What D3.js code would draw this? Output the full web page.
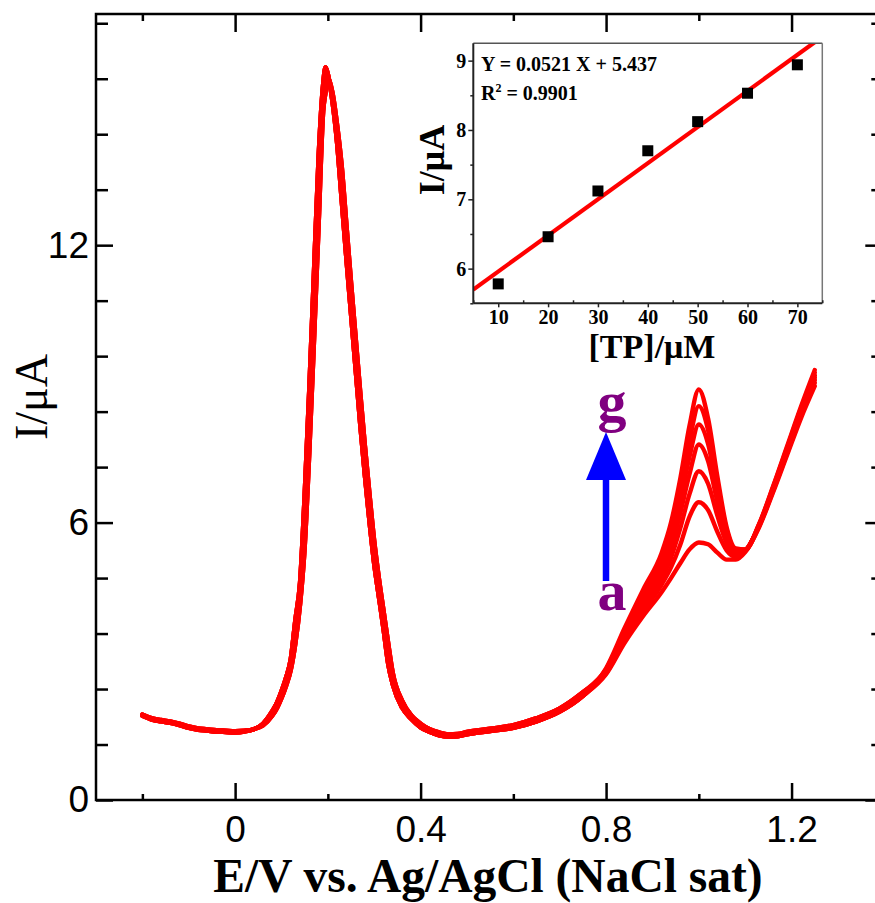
<!DOCTYPE html>
<html><head><meta charset="utf-8">
<script src="https://cdn.jsdelivr.net/npm/d3@7"></script>
<style>body{margin:0;background:#fff}svg{display:block}</style>
</head><body><svg id="c" width="875" height="903"></svg>
<script>
// ---------- DATA ----------
// shared part of the DPV curves (E / V, I / µA); two edges of the overlapping band
const commonE  = [-0.20,-0.18,-0.16,-0.14,-0.12,-0.10,-0.08,-0.06,-0.04,-0.02,0.00,0.02,0.04,0.06,0.08,0.09,0.10,0.11,0.12,0.13,0.14,0.15,0.16,0.17,0.18,0.19,0.195,0.20,0.21,0.22,0.23,0.24,0.25,0.26,0.27,0.28,0.29,0.30,0.31,0.32,0.33,0.34,0.36,0.38,0.40,0.42,0.44,0.46,0.48,0.50,0.55,0.60,0.65,0.70,0.75];
const commonI1 = [1.82,1.74,1.70,1.67,1.62,1.56,1.52,1.50,1.48,1.47,1.46,1.48,1.53,1.65,1.92,2.10,2.35,2.65,3.05,3.90,4.70,6.60,8.90,11.40,13.90,15.50,15.85,15.70,15.10,14.20,12.95,11.70,10.50,9.30,8.10,7.00,6.00,5.10,4.40,3.70,2.95,2.50,2.00,1.75,1.57,1.47,1.40,1.37,1.38,1.42,1.49,1.56,1.70,1.91,2.25];
const commonI2 = [1.85,1.77,1.73,1.70,1.65,1.59,1.55,1.53,1.51,1.50,1.49,1.50,1.53,1.61,1.82,1.98,2.20,2.47,2.81,3.39,4.22,5.46,7.52,9.90,12.40,14.90,15.30,15.60,15.30,14.60,13.70,12.45,11.20,10.00,8.80,7.65,6.60,5.60,4.80,4.10,3.40,2.75,2.15,1.83,1.65,1.53,1.46,1.42,1.43,1.47,1.54,1.62,1.77,1.98,2.33];
// curve-specific part
const tailE  = [0.80,0.84,0.88,0.92,0.94,0.96,0.98,1.00,1.02,1.04,1.06,1.08,1.10,1.13,1.16,1.19,1.22,1.25];
const curveA = [2.72,3.40,3.98,4.50,4.80,5.12,5.42,5.57,5.53,5.35,5.20,5.20,5.36,5.90,6.65,7.45,8.25,8.95];
const curveB = [2.74,3.45,4.09,4.66,5.03,5.52,6.13,6.44,6.27,5.80,5.40,5.26,5.38,5.92,6.68,7.49,8.30,9.02];
const curveC = [2.76,3.50,4.18,4.80,5.24,5.88,6.62,7.11,6.84,6.15,5.56,5.31,5.39,5.93,6.70,7.52,8.34,9.08];
const curveD = [2.78,3.55,4.27,4.94,5.45,6.20,7.05,7.69,7.33,6.45,5.69,5.35,5.40,5.94,6.72,7.55,8.38,9.13];
const curveE = [2.80,3.60,4.36,5.08,5.64,6.47,7.43,8.12,7.70,6.67,5.79,5.39,5.41,5.95,6.74,7.58,8.42,9.18];
const curveF = [2.83,3.66,4.45,5.22,5.83,6.72,7.78,8.52,8.00,6.85,5.85,5.41,5.42,5.96,6.76,7.61,8.46,9.24];
const curveG = [2.85,3.72,4.55,5.35,6.00,6.95,8.10,8.88,8.25,7.00,5.90,5.44,5.42,5.97,6.78,7.64,8.50,9.30];
const curveLabels = ["a","b","c","d","e","f","g"];

const xMajor = [0, 0.4, 0.8, 1.2];
const xMinor = [-0.2, 0.2, 0.6, 1.0, 1.4];
const yMajor = [0, 6, 12];
const yMinor = [1.2,2.4,3.6,4.8,7.2,8.4,9.6,10.8,13.2,14.4,15.6,16.8];

// inset calibration data
const tpConc = [10, 20, 30, 40, 50, 60, 70];
const peakCurrent = [5.78, 6.46, 7.12, 7.70, 8.12, 8.53, 8.94];
const fitSlope = 0.0521, fitIntercept = 5.437;
const insetXTicks = [10, 20, 30, 40, 50, 60, 70];
const insetXMinor = [5, 15, 25, 35, 45, 55, 65, 75];
const insetYTicks = [6, 7, 8, 9];
const insetYMinor = [5.5, 6.5, 7.5, 8.5];

// ---------- DRAW ----------
const svg = d3.select("#c");
const RED = "#ff0000";
const x = d3.scaleLinear([-0.3, 1.4], [96, 884.3]);
const y = d3.scaleLinear([0, 17], [800, 14]);

// curves
const tails = [curveA, curveB, curveC, curveD, curveE, curveF, curveG];
const heads = [commonI1, commonI2, commonI1, commonI2, commonI1, commonI2, commonI1];
const line = d3.line().x(d => x(d[0])).y(d => y(d[1])).curve(d3.curveMonotoneX);
tails.forEach((t, k) => {
  const h = heads[k];
  const pts = commonE.map((e, i) => [e, h[i]]).concat(tailE.map((e, i) => [e, t[i]]));
  svg.append("path").attr("d", line(pts)).attr("fill", "none")
     .attr("stroke", RED).attr("stroke-width", 4.4).attr("stroke-linejoin", "round").attr("stroke-linecap","round");
});

// axes (inward ticks)
const axG = svg.append("g").attr("stroke-width", 2.5);
function styleAxis(g){ g.select(".domain").remove(); g.selectAll("line").attr("stroke","#000").attr("stroke-width",2.5); }
axG.append("g").attr("transform","translate(0,800)")
   .call(d3.axisBottom(x).tickValues(xMajor).tickSize(-17).tickPadding(16).tickFormat(d3.format("")))
   .call(styleAxis).call(g => g.selectAll("text").attr("font-family","Liberation Sans, Arial").attr("font-size",37).attr("fill","#000"));
axG.append("g").attr("transform","translate(0,800)")
   .call(d3.axisBottom(x).tickValues(xMinor).tickSize(-6).tickFormat("")).call(styleAxis);
axG.append("g").attr("transform","translate(0,14)")
   .call(d3.axisTop(x).tickValues(xMajor).tickSize(-18).tickFormat("")).call(styleAxis);
axG.append("g").attr("transform","translate(0,14)")
   .call(d3.axisTop(x).tickValues(xMinor).tickSize(-7).tickFormat("")).call(styleAxis);
axG.append("g").attr("transform","translate(96,0)")
   .call(d3.axisLeft(y).tickValues(yMajor).tickSize(-17).tickPadding(7).tickFormat(d3.format("")))
   .call(styleAxis).call(g => g.selectAll("text").attr("font-family","Liberation Sans, Arial").attr("font-size",37).attr("fill","#000"));
axG.append("g").attr("transform","translate(96,0)")
   .call(d3.axisLeft(y).tickValues(yMinor).tickSize(-12).tickFormat("")).call(styleAxis);
axG.append("g").attr("transform","translate(884.3,0)")
   .call(d3.axisRight(y).tickValues(yMajor).tickSize(-19).tickFormat("")).call(styleAxis);
axG.append("g").attr("transform","translate(884.3,0)")
   .call(d3.axisRight(y).tickValues(yMinor).tickSize(-13).tickFormat("")).call(styleAxis);
svg.append("rect").attr("x",96).attr("y",14).attr("width",884.3-96).attr("height",786)
   .attr("fill","none").attr("stroke","#000").attr("stroke-width",2.5);

// axis titles
svg.append("text").attr("x",488).attr("y",892).attr("text-anchor","middle")
   .attr("font-family","Liberation Serif, Times New Roman").attr("font-weight","bold").attr("font-size",47.5)
   .text("E/V vs. Ag/AgCl (NaCl sat)");
svg.append("text").attr("transform","translate(47,397) rotate(-90)").attr("text-anchor","middle")
   .attr("font-family","Liberation Serif, Times New Roman").attr("font-size",46)
   .text("I/\u03bcA");

// arrow a -> g
const arrowX = 606;
svg.append("line").attr("x1",arrowX).attr("x2",arrowX).attr("y1",581).attr("y2",476)
   .attr("stroke","#0000ff").attr("stroke-width",6.5);
svg.append("path").attr("d",`M${arrowX-20},480 L${arrowX+20},480 L${arrowX},432 Z`).attr("fill","#0000ff");
svg.append("text").attr("x",arrowX+6).attr("y",610).attr("text-anchor","middle")
   .attr("font-family","Liberation Serif, Times New Roman").attr("font-weight","bold").attr("font-size",58)
   .attr("fill","#800080").text(curveLabels[0]);
svg.append("text").attr("x",arrowX+6).attr("y",421).attr("text-anchor","middle")
   .attr("font-family","Liberation Serif, Times New Roman").attr("font-weight","bold").attr("font-size",58)
   .attr("fill","#800080").text(curveLabels[curveLabels.length-1]);

// ---------- INSET ----------
const L = 473.3, R = 822.3, T = 43.3, B = 303.3;
const ix = d3.scaleLinear([5, 75], [L, R]);
const iy = d3.scaleLinear([5.5, 9.25], [B, T]);
const ins = svg.append("g");
ins.append("rect").attr("x",L).attr("y",T).attr("width",R-L).attr("height",B-T).attr("fill","#fff");
ins.append("clipPath").attr("id","ic").append("rect").attr("x",L).attr("y",T).attr("width",R-L).attr("height",B-T);
ins.append("line").attr("clip-path","url(#ic)")
   .attr("x1",ix(5)).attr("y1",iy(fitIntercept+fitSlope*5))
   .attr("x2",ix(75)).attr("y2",iy(fitIntercept+fitSlope*75))
   .attr("stroke",RED).attr("stroke-width",4.2);
ins.selectAll("rect.pt").data(tpConc).join("rect").attr("class","pt")
   .attr("x",(d)=>ix(d)-5.5).attr("y",(d,i)=>iy(peakCurrent[i])-5.5)
   .attr("width",11).attr("height",11).attr("fill","#000");
// frame
ins.append("line").attr("x1",L).attr("x2",R).attr("y1",T).attr("y2",T).attr("stroke","#555").attr("stroke-width",1.5);
ins.append("line").attr("x1",R).attr("x2",R).attr("y1",T).attr("y2",B).attr("stroke","#777").attr("stroke-width",1.5);
const serif = "Liberation Serif, Times New Roman";
function styleI(g){ g.select(".domain").remove(); g.selectAll("line").attr("stroke","#222").attr("stroke-width",1.5);
  g.selectAll("text").attr("font-family",serif).attr("font-weight","bold").attr("font-size",20).attr("fill","#000"); }
ins.append("g").attr("transform",`translate(0,${B})`)
   .call(d3.axisBottom(ix).tickValues(insetXTicks).tickSize(4).tickPadding(3).tickFormat(d3.format(""))).call(styleI);
ins.append("g").attr("transform",`translate(0,${B})`)
   .call(d3.axisBottom(ix).tickValues(insetXMinor).tickSize(-3).tickFormat("")).call(styleI);
ins.append("g").attr("transform",`translate(${L},0)`)
   .call(d3.axisLeft(iy).tickValues(insetYTicks).tickSize(5).tickPadding(2).tickFormat(d3.format(""))).call(styleI);
ins.append("g").attr("transform",`translate(${L},0)`)
   .call(d3.axisLeft(iy).tickValues(insetYMinor).tickSize(3).tickFormat("")).call(styleI);
ins.append("line").attr("x1",L).attr("x2",R).attr("y1",B).attr("y2",B).attr("stroke","#222").attr("stroke-width",2);
ins.append("line").attr("x1",L).attr("x2",L).attr("y1",T).attr("y2",B).attr("stroke","#222").attr("stroke-width",2);

ins.append("text").attr("x",652).attr("y",358).attr("text-anchor","middle")
   .attr("font-family",serif).attr("font-weight","bold").attr("font-size",34).text("[TP]/\u03bcM");
ins.append("text").attr("transform","translate(444,160) rotate(-90)").attr("text-anchor","middle")
   .attr("font-family",serif).attr("font-weight","bold").attr("font-size",36).text("I/\u03bcA");
ins.append("text").attr("x",481).attr("y",71)
   .attr("font-family",serif).attr("font-weight","bold").attr("font-size",20)
   .text(`Y = ${fitSlope} X + ${fitIntercept}`);
const r2 = ins.append("text").attr("x",481).attr("y",100)
   .attr("font-family",serif).attr("font-weight","bold").attr("font-size",20);
r2.append("tspan").text("R");
r2.append("tspan").attr("font-size",12).attr("dy",-8).text("2");
r2.append("tspan").attr("dy",8).text(" = 0.9901");
</script></body></html>
